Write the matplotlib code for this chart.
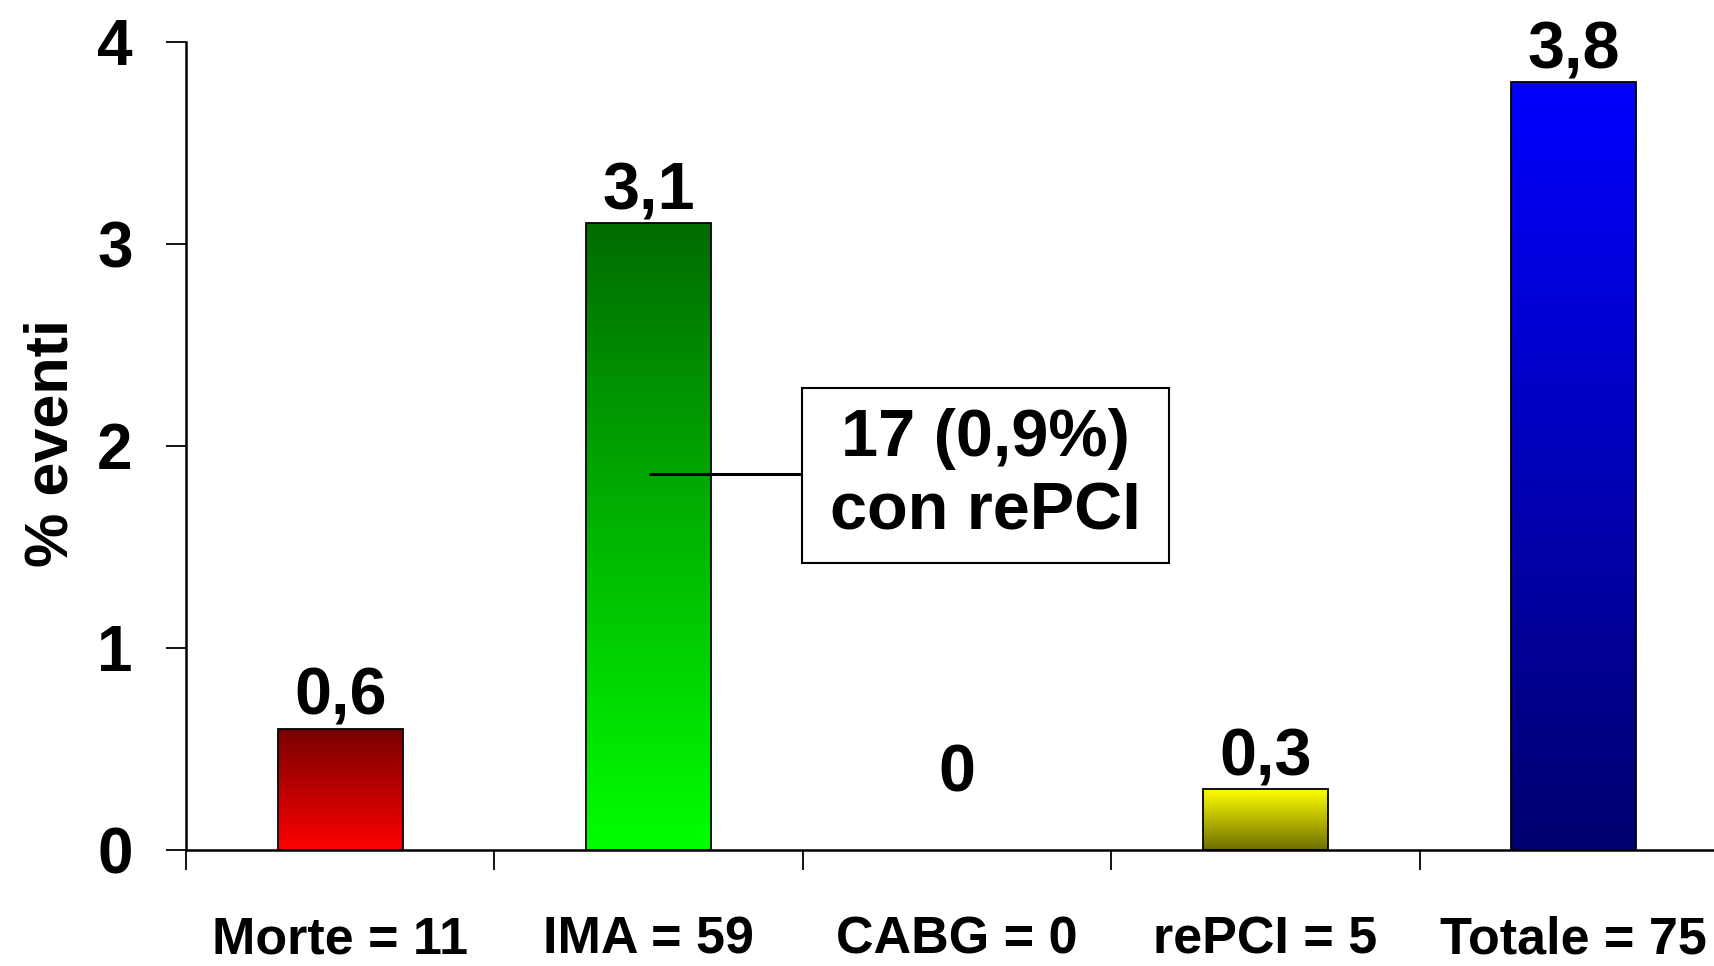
import numpy as np
import matplotlib
matplotlib.use("Agg")
import matplotlib.pyplot as plt
from matplotlib.colors import LinearSegmentedColormap
from matplotlib.transforms import blended_transform_factory

# ---- data ----
categories = ["Morte = 11", "IMA = 59", "CABG = 0", "rePCI = 5", "Totale = 75"]
values = [0.6, 3.1, 0.0, 0.3, 3.8]
value_labels = ["0,6", "3,1", "0", "0,3", "3,8"]
yticks = [0, 1, 2, 3, 4]
ylabel = "% eventi"
note_text = "17 (0,9%)\ncon rePCI"
note_value = 1.86  # height of the leader line on the IMA bar

# gradient colours (top, bottom)
grad_colors = [("#780000", "#ff0000"),
               ("#006c00", "#00ff00"),
               (None, None),
               ("#ffff00", "#6e6e00"),
               ("#0000ff", "#000070")]

plt.rcParams['font.family'] = ['Liberation Sans', 'DejaVu Sans']
plt.rcParams['font.weight'] = 'bold'

fig = plt.figure(figsize=(17.15, 9.66), dpi=100)
ax = fig.add_axes([0.1085, 0.120, 0.899, 0.837])

x = np.arange(len(categories))
width = 0.405
bars = ax.bar(x, values, width=width, facecolor='none', edgecolor='black',
              linewidth=1.3, zorder=3)

for b, (ctop, cbot) in zip(bars, grad_colors):
    h = b.get_height()
    if h <= 0 or ctop is None:
        b.set_linewidth(0)
        continue
    cmap = LinearSegmentedColormap.from_list("g", [cbot, ctop])
    grad = np.linspace(0, 1, 256).reshape(-1, 1)
    x0 = b.get_x()
    im = ax.imshow(grad, cmap=cmap, origin='lower', aspect='auto',
                   extent=[x0, x0 + b.get_width(), 0, h], zorder=2,
                   interpolation='bilinear')
    im.set_clip_path(b)

ax.set_xlim(-0.5, len(categories) - 0.5)
ax.set_ylim(0, 4)

# spines
for s in ['top', 'right']:
    ax.spines[s].set_visible(False)
for s in ['left', 'bottom']:
    ax.spines[s].set_linewidth(1.8)
ax.spines['bottom'].set_zorder(4)

# ticks
ax.set_yticks(yticks)
ax.set_yticklabels([str(t) for t in yticks], fontsize=46, fontweight='bold')
ax.tick_params(axis='y', length=14.5, width=1.3, pad=24, direction='out')
bounds = np.arange(len(categories) + 1) - 0.5
ax.set_xticks(bounds)
ax.set_xticklabels([''] * len(bounds))
ax.tick_params(axis='x', length=14.5, width=1.3, direction='out')

# category labels
trans = blended_transform_factory(ax.transData, fig.transFigure)
for xi, lab in zip(x, categories):
    ax.text(xi, 1 - 953 / 966, lab, transform=trans, ha='center', va='baseline',
            fontsize=37.5, fontweight='bold', clip_on=False)

# value labels
for xi, v, lab in zip(x, values, value_labels):
    off = 42 if v == 0 else 10
    ax.annotate(lab, (xi, v), xytext=(0, off), textcoords='offset points',
                ha='center', va='baseline', fontsize=48, fontweight='bold',
                annotation_clip=False)

# y label
fig.text(52 / 1715, 1 - 443 / 966, ylabel, rotation=90, ha='center',
         va='center', fontsize=44, fontweight='bold')

# annotation box
box_left, box_right = 1.497, 2.687
box_bot, box_top = 1.419, 2.285
ax.plot([x[1], box_left], [note_value, note_value], color='black', lw=2.2,
        zorder=5, solid_capstyle='butt')
rect = plt.Rectangle((box_left, box_bot), box_right - box_left, box_top - box_bot,
                     facecolor='white', edgecolor='black', lw=1.5, zorder=5)
ax.add_patch(rect)
ax.text((box_left + box_right) / 2, (box_bot + box_top) / 2, note_text,
        ha='center', va='center', fontsize=48, fontweight='bold', zorder=6,
        linespacing=1.25)

fig.savefig("out.png", dpi=100)
